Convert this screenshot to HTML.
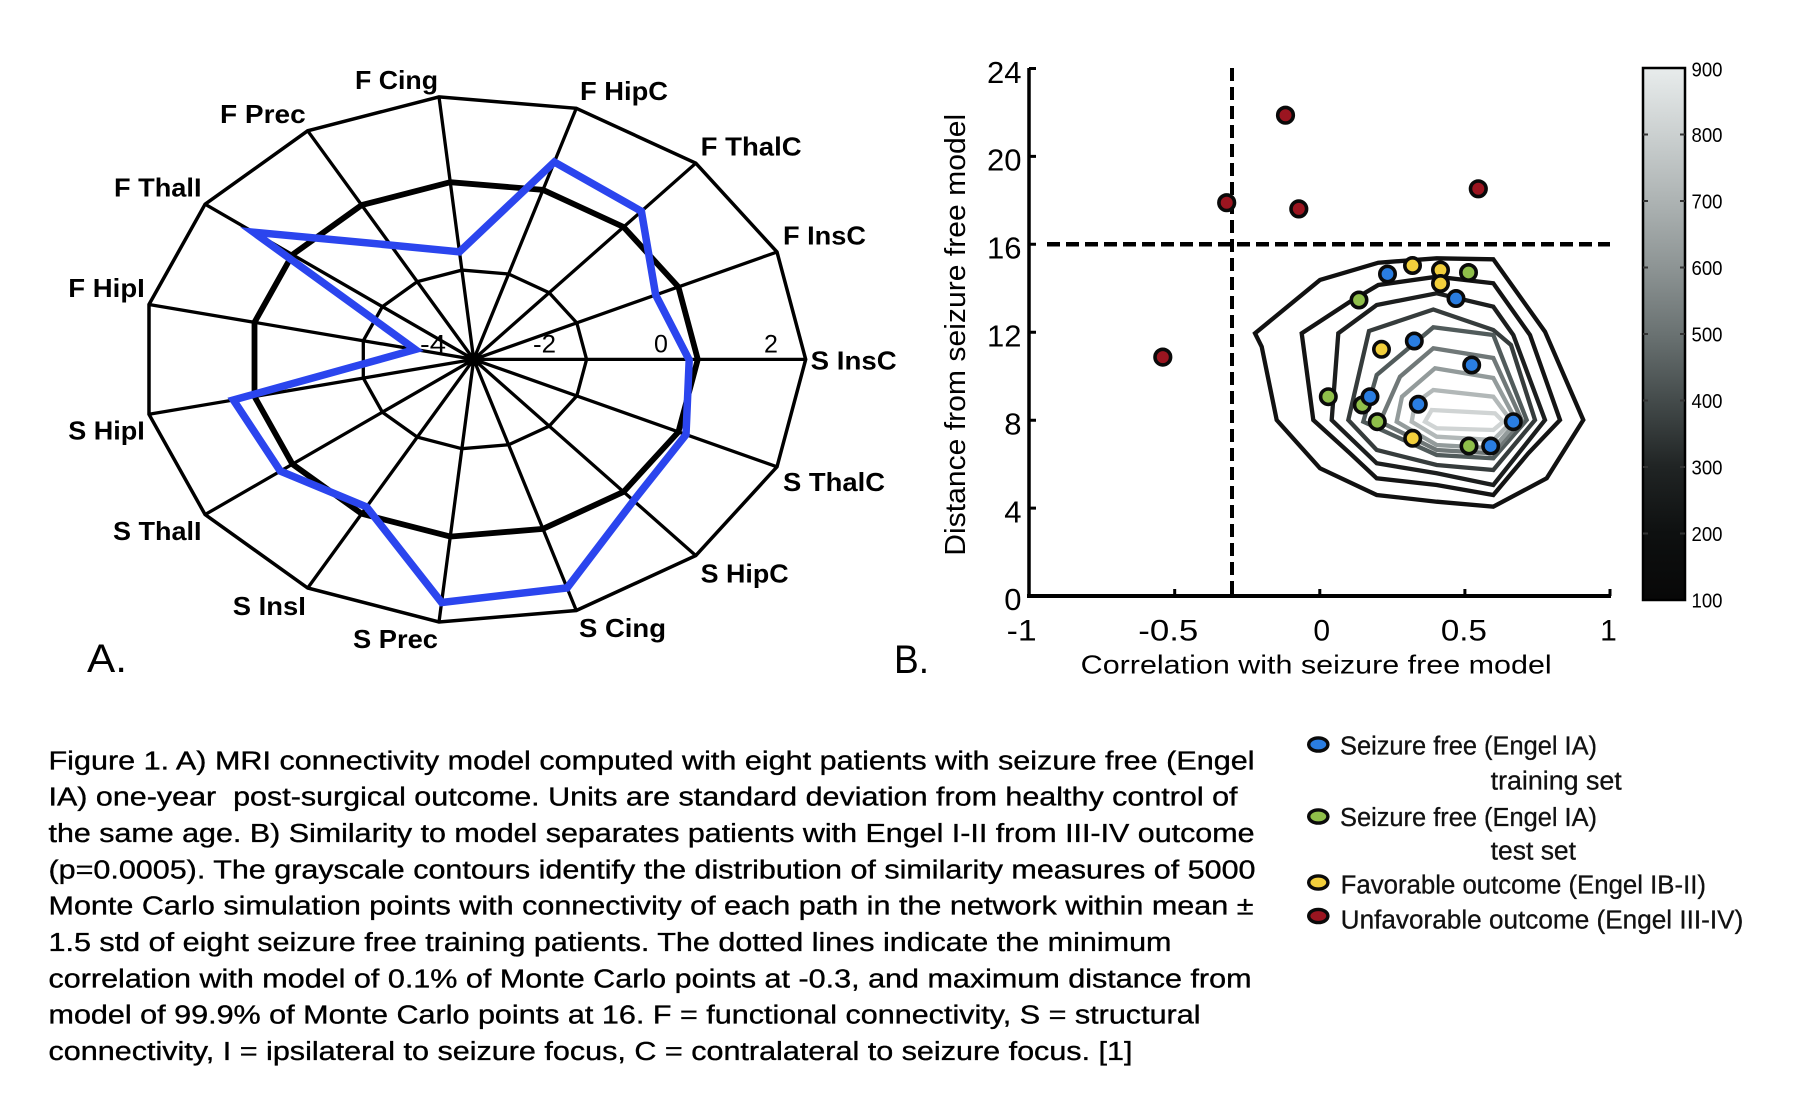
<!DOCTYPE html>
<html>
<head>
<meta charset="utf-8">
<style>
html,body{margin:0;padding:0;background:#fff;}
svg{display:block;}
text{font-family:"Liberation Sans",Arial,sans-serif;}
</style>
</head>
<body>
<svg width="1816" height="1109" viewBox="0 0 1816 1109" xmlns="http://www.w3.org/2000/svg">
<defs>
<linearGradient id="cb" x1="0" y1="0" x2="0" y2="1">
<stop offset="0" stop-color="#e8ecec"/>
<stop offset="0.125" stop-color="#cbd0d0"/>
<stop offset="0.25" stop-color="#adb3b3"/>
<stop offset="0.375" stop-color="#8d9494"/>
<stop offset="0.5" stop-color="#6a7272"/>
<stop offset="0.625" stop-color="#444b4b"/>
<stop offset="0.75" stop-color="#202424"/>
<stop offset="0.875" stop-color="#0e1010"/>
<stop offset="1" stop-color="#080808"/>
</linearGradient>
</defs>
<rect width="1816" height="1109" fill="#fff"/>

<!-- ===== Panel A: radar ===== -->
<g fill="none" stroke="#000" stroke-linejoin="miter">
<path stroke-width="3.3" d="M473.7 359.4L805.7 359.4M473.7 359.4L777.0 252.0M473.7 359.4L695.8 163.2M473.7 359.4L576.3 108.3M473.7 359.4L439.0 96.9M473.7 359.4L307.7 130.8M473.7 359.4L205.1 204.2M473.7 359.4L149.0 304.5M473.7 359.4L149.0 414.3M473.7 359.4L205.1 514.6M473.7 359.4L307.7 588.0M473.7 359.4L439.0 622.0M473.7 359.4L576.3 610.5M473.7 359.4L695.8 555.6M473.7 359.4L777.0 466.8"/>
<polygon stroke-width="3.5" points="805.7,359.4 777.0,252.0 695.8,163.2 576.3,108.3 439.0,96.9 307.7,130.8 205.1,204.2 149.0,304.5 149.0,414.3 205.1,514.6 307.7,588.0 439.0,622.0 576.3,610.5 695.8,555.6 777.0,466.8"/>
<polygon stroke-width="3.3" points="586.6,359.4 576.8,322.9 549.2,292.7 508.6,274.0 461.9,270.1 417.3,281.7 382.4,306.6 363.3,340.7 363.3,378.1 382.4,412.2 417.3,437.1 461.9,448.7 508.6,444.8 549.2,426.1 576.8,395.9"/>
<polygon stroke-width="5.8" points="697.8,359.4 678.4,286.9 623.6,227.0 542.9,189.9 450.3,182.2 361.6,205.1 292.4,254.7 254.5,322.3 254.5,396.5 292.4,464.1 361.6,513.7 450.3,536.6 542.9,528.9 623.6,491.8 678.4,431.9"/>
<polygon stroke="#2b45ee" stroke-width="7.5" points="689.2,360 655.7,295.0 641.4,211.3 554.3,162.0 459.5,251.8 390.7,245.1 253.5,232.2 415.2,349.5 233.4,400.0 280.3,471.1 366.6,506.9 441.6,602.5 567.1,587.9 633.6,500.6 686.0,434.6"/>
</g>
<circle cx="473.7" cy="359.4" r="5" fill="#000"/>

<g font-size="25" fill="#000">
<text x="420" y="352.5" textLength="26" lengthAdjust="spacingAndGlyphs">-4</text>
<text x="533" y="352.5" textLength="23" lengthAdjust="spacingAndGlyphs">-2</text>
<text x="654" y="352.5">0</text>
<text x="764" y="352.5">2</text>
</g>

<g font-size="26" font-weight="bold" fill="#000">
<text x="355" y="89" textLength="83" lengthAdjust="spacingAndGlyphs">F Cing</text>
<text x="580" y="100" textLength="88" lengthAdjust="spacingAndGlyphs">F HipC</text>
<text x="700.7" y="155.3" textLength="101" lengthAdjust="spacingAndGlyphs">F ThalC</text>
<text x="783" y="244.6" textLength="83" lengthAdjust="spacingAndGlyphs">F InsC</text>
<text x="810.7" y="369.6" textLength="86" lengthAdjust="spacingAndGlyphs">S InsC</text>
<text x="783" y="491" textLength="102" lengthAdjust="spacingAndGlyphs">S ThalC</text>
<text x="700.7" y="582.6" textLength="88" lengthAdjust="spacingAndGlyphs">S HipC</text>
<text x="579" y="637" textLength="87" lengthAdjust="spacingAndGlyphs">S Cing</text>
<text x="353" y="648.2" textLength="85" lengthAdjust="spacingAndGlyphs">S Prec</text>
<text x="232.8" y="615.1" textLength="73" lengthAdjust="spacingAndGlyphs">S InsI</text>
<text x="113" y="540.1" textLength="88.5" lengthAdjust="spacingAndGlyphs">S ThalI</text>
<text x="68.3" y="439.7" textLength="76.5" lengthAdjust="spacingAndGlyphs">S HipI</text>
<text x="68.3" y="296.9" textLength="76.5" lengthAdjust="spacingAndGlyphs">F HipI</text>
<text x="114" y="196.4" textLength="87.5" lengthAdjust="spacingAndGlyphs">F ThalI</text>
<text x="220" y="122.8" textLength="85.7" lengthAdjust="spacingAndGlyphs">F Prec</text>
</g>

<text x="87" y="672" font-size="40" textLength="40" lengthAdjust="spacingAndGlyphs">A.</text>
<text x="894" y="673" font-size="40" textLength="35" lengthAdjust="spacingAndGlyphs">B.</text>

<!-- ===== Panel B ===== -->
<g fill="none" stroke-width="4.3" stroke-linejoin="miter">
<polygon stroke="#111" points="1255,333.3 1261.7,346.7 1276.7,420 1320,468.3 1376.7,495 1436.7,501.7 1493.3,506.7 1546.7,478.3 1583.3,420 1545,331.7 1493.3,259.3 1436.7,258.3 1378.3,262.7 1320,280"/>
<polygon stroke="#141414" points="1301.7,333.3 1313.3,420 1350,453.3 1376.7,478.3 1436.7,485 1493.3,495 1528.3,453.3 1560,420 1530,335 1493.3,283.3 1436.7,276.7 1378.3,285 1350,301.7"/>
<polygon stroke="#1c1e1e" points="1338.3,333.3 1331.7,420 1376.7,463.3 1436.7,473.3 1493.3,485 1545,420 1513.3,335 1493.3,306.7 1436.7,293.3 1376.7,305"/>
<polygon stroke="#363c3c" points="1369,331 1433.3,309.5 1493.3,330 1511,345 1535,420 1493.3,470 1436.7,465 1376.7,450 1348.3,420"/>
<polygon stroke="#515b5b" points="1433.3,327.3 1493.3,335 1526.7,420 1493.3,458.3 1436.7,455 1363.3,421.7 1376.7,375"/>
<polygon stroke="#707878" points="1433.3,348.3 1493.3,358 1521.7,420 1493.3,453.3 1436.7,450 1380,421.7 1400,376.7"/>
<polygon stroke="#939b9b" points="1435,368.3 1493.3,378 1516.7,421.7 1493.3,448.3 1436.7,445 1396.7,421.7 1402,396.7"/>
<polygon stroke="#b2b8b8" points="1433.3,390 1493.3,396.7 1511.7,421.7 1493.3,440 1436.7,436.7 1411.7,421.7 1415,403.3"/>
<polygon stroke="#d0d4d4" points="1431.7,410 1495,413.3 1503.3,421.7 1493.3,430 1436.7,428.3 1425,421.7"/>
</g>

<line x1="1047" y1="244.3" x2="1610" y2="244.3" stroke="#000" stroke-width="4.5" stroke-dasharray="13 6"/>
<line x1="1232" y1="68" x2="1232" y2="596" stroke="#000" stroke-width="4" stroke-dasharray="13 6"/>

<g stroke="#000" fill="none">
<line x1="1029" y1="68" x2="1029" y2="598" stroke-width="3.5"/>
<line x1="1027" y1="596" x2="1611" y2="596" stroke-width="4"/>
<path stroke-width="3" d="M1029 68.5H1036M1029 156.4H1036M1029 244.3H1036M1029 332.2H1036M1029 420.2H1036M1029 508.1H1036M1174.7 596V589M1319.8 596V589M1464.9 596V589M1610 596V589"/>
</g>

<g font-size="31" fill="#000" text-anchor="end">
<text x="1021.5" y="83">24</text>
<text x="1021.5" y="170.7">20</text>
<text x="1021.5" y="258.6">16</text>
<text x="1021.5" y="346.5">12</text>
<text x="1021.5" y="434.5">8</text>
<text x="1021.5" y="522.4">4</text>
<text x="1021.5" y="610">0</text>
</g>
<g font-size="30" fill="#000" text-anchor="middle">
<text x="1021.7" y="640.5" textLength="30" lengthAdjust="spacingAndGlyphs">-1</text>
<text x="1168.3" y="640.5" textLength="60" lengthAdjust="spacingAndGlyphs">-0.5</text>
<text x="1321.7" y="640.5">0</text>
<text x="1463.9" y="640.5" textLength="46" lengthAdjust="spacingAndGlyphs">0.5</text>
<text x="1608.5" y="640.5">1</text>
</g>
<text x="1080.7" y="673.5" font-size="26" fill="#000" textLength="471" lengthAdjust="spacingAndGlyphs">Correlation with seizure free model</text>
<text transform="translate(965,555.8) rotate(-90)" x="0" y="0" font-size="29" fill="#000" textLength="442" lengthAdjust="spacingAndGlyphs">Distance from seizure free model</text>

<g stroke="#0a0a0a" stroke-width="3.6">
<g fill="#9b1520">
<circle cx="1285.5" cy="115.2" r="7.8"/>
<circle cx="1226.7" cy="202.7" r="7.8"/>
<circle cx="1298.8" cy="208.9" r="7.8"/>
<circle cx="1478.3" cy="188.8" r="7.8"/>
<circle cx="1162.8" cy="357.1" r="7.8"/>
</g>
<g fill="#8fbf4a">
<circle cx="1468.5" cy="272.5" r="7.7"/>
<circle cx="1359" cy="300" r="7.7"/>
<circle cx="1328.3" cy="396.7" r="7.7"/>
<circle cx="1362.3" cy="405" r="7.7"/>
<circle cx="1377.3" cy="421.7" r="7.7"/>
<circle cx="1469" cy="446" r="7.7"/>
</g>
<g fill="#2a7de1">
<circle cx="1387.5" cy="274" r="7.7"/>
<circle cx="1456" cy="298.5" r="7.7"/>
<circle cx="1414.3" cy="341" r="7.7"/>
<circle cx="1471.7" cy="365" r="7.7"/>
<circle cx="1370" cy="396.7" r="7.7"/>
<circle cx="1418.3" cy="404.3" r="7.7"/>
<circle cx="1513.3" cy="421.7" r="7.7"/>
<circle cx="1490.7" cy="446" r="7.7"/>
</g>
<g fill="#f2cf3c">
<circle cx="1412.5" cy="265.5" r="7.7"/>
<circle cx="1440.5" cy="270" r="7.7"/>
<circle cx="1440.5" cy="283.5" r="7.7"/>
<circle cx="1381.5" cy="349.3" r="7.7"/>
<circle cx="1412.7" cy="438.3" r="7.7"/>
</g>
</g>

<rect x="1643" y="68" width="42" height="532" fill="url(#cb)" stroke="#000" stroke-width="2.5"/>
<path stroke="#333" stroke-width="2" d="M1643 134.5h5M1643 201h5M1643 267.5h5M1643 334h5M1643 400.5h5M1643 467h5M1643 533.5h5M1685 134.5h-5M1685 201h-5M1685 267.5h-5M1685 334h-5M1685 400.5h-5M1685 467h-5M1685 533.5h-5"/>
<g font-size="20" fill="#000">
<text x="1691.5" y="76.5" textLength="31" lengthAdjust="spacingAndGlyphs">900</text>
<text x="1691.5" y="142" textLength="31" lengthAdjust="spacingAndGlyphs">800</text>
<text x="1691.5" y="208.5" textLength="31" lengthAdjust="spacingAndGlyphs">700</text>
<text x="1691.5" y="275" textLength="31" lengthAdjust="spacingAndGlyphs">600</text>
<text x="1691.5" y="341.5" textLength="31" lengthAdjust="spacingAndGlyphs">500</text>
<text x="1691.5" y="408" textLength="31" lengthAdjust="spacingAndGlyphs">400</text>
<text x="1691.5" y="474.5" textLength="31" lengthAdjust="spacingAndGlyphs">300</text>
<text x="1691.5" y="541" textLength="31" lengthAdjust="spacingAndGlyphs">200</text>
<text x="1691.5" y="607.5" textLength="31" lengthAdjust="spacingAndGlyphs">100</text>
</g>

<!-- ===== Caption ===== -->
<g font-size="25.5" fill="#000" stroke="#000" stroke-width="0.35">
<text x="48.5" y="769.3" textLength="1206" lengthAdjust="spacingAndGlyphs">Figure 1. A) MRI connectivity model computed with eight patients with seizure free (Engel</text>
<text x="48.5" y="805.7" textLength="1189" lengthAdjust="spacingAndGlyphs" xml:space="preserve">IA) one-year  post-surgical outcome. Units are standard deviation from healthy control of</text>
<text x="48.5" y="842" textLength="1206" lengthAdjust="spacingAndGlyphs">the same age. B) Similarity to model separates patients with Engel I-II from III-IV outcome</text>
<text x="48.5" y="878.3" textLength="1207" lengthAdjust="spacingAndGlyphs">(p=0.0005). The grayscale contours identify the distribution of similarity measures of 5000</text>
<text x="48.5" y="914.7" textLength="1205" lengthAdjust="spacingAndGlyphs">Monte Carlo simulation points with connectivity of each path in the network within mean ±</text>
<text x="48.5" y="951" textLength="1123" lengthAdjust="spacingAndGlyphs">1.5 std of eight seizure free training patients. The dotted lines indicate the minimum</text>
<text x="48.5" y="987.3" textLength="1203" lengthAdjust="spacingAndGlyphs">correlation with model of 0.1% of Monte Carlo points at -0.3, and maximum distance from</text>
<text x="48.5" y="1023.7" textLength="1152" lengthAdjust="spacingAndGlyphs">model of 99.9% of Monte Carlo points at 16. F = functional connectivity, S = structural</text>
<text x="48.5" y="1060" textLength="1084" lengthAdjust="spacingAndGlyphs">connectivity, I = ipsilateral to seizure focus, C = contralateral to seizure focus. [1]</text>
</g>

<!-- ===== Legend ===== -->
<g stroke="#0a0a0a" stroke-width="3.4">
<ellipse cx="1318.3" cy="744.5" rx="9.6" ry="6.6" fill="#2a7de1"/>
<ellipse cx="1318.3" cy="816.5" rx="9.6" ry="6.6" fill="#8fbf4a"/>
<ellipse cx="1318.3" cy="882.5" rx="9.6" ry="6.6" fill="#f2cf3c"/>
<ellipse cx="1318.3" cy="916" rx="9.6" ry="6.6" fill="#9b1520"/>
</g>
<g font-size="25.5" fill="#111" stroke="#111" stroke-width="0.3">
<text x="1340" y="754.3" textLength="257" lengthAdjust="spacingAndGlyphs">Seizure free (Engel IA)</text>
<text x="1490.7" y="789.3" textLength="131" lengthAdjust="spacingAndGlyphs">training set</text>
<text x="1340" y="826" textLength="257" lengthAdjust="spacingAndGlyphs">Seizure free (Engel IA)</text>
<text x="1490.7" y="859.3" textLength="85.3" lengthAdjust="spacingAndGlyphs">test set</text>
<text x="1340.7" y="893.3" textLength="365.3" lengthAdjust="spacingAndGlyphs">Favorable outcome (Engel IB-II)</text>
<text x="1340.7" y="928.3" textLength="402.6" lengthAdjust="spacingAndGlyphs">Unfavorable outcome (Engel III-IV)</text>
</g>
</svg>
</body>
</html>
